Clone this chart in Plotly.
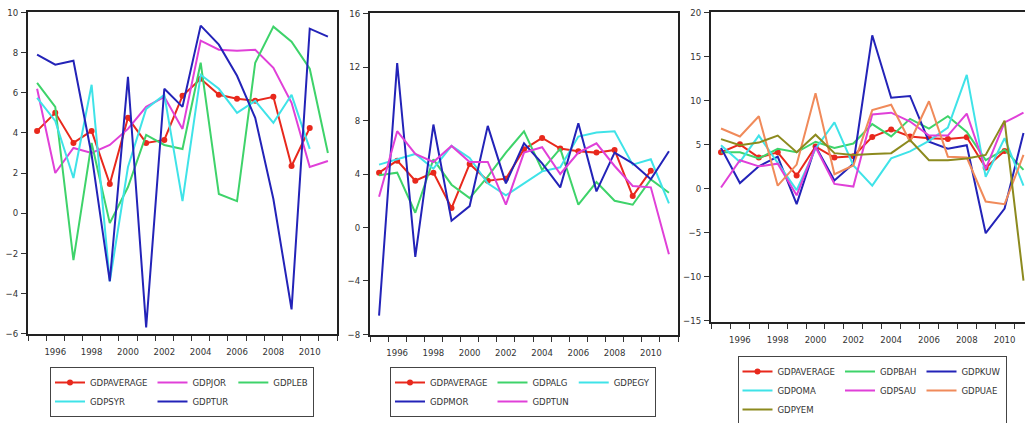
import plotly.graph_objects as go

years = list(range(1995, 2012))
tick_years = [1996, 1998, 2000, 2002, 2004, 2006, 2008, 2010]
tick_text = [str(y) for y in tick_years]

gdp_average = [4.1, 5.0, 3.5, 4.1, 1.45, 4.75, 3.5, 3.65, 5.85, 6.7, 5.9, 5.7, 5.6, 5.8, 2.35, 4.25, None]

# Panel 1
gdp_jor = [6.2, 2.0, 3.25, 3.0, 3.4, 4.2, 5.3, 5.8, 4.2, 8.6, 8.15, 8.1, 8.15, 7.25, 5.5, 2.3, 2.6]
gdp_leb = [6.5, 5.3, -2.35, 3.5, -0.5, 1.3, 3.9, 3.4, 3.2, 7.5, 0.95, 0.6, 7.5, 9.3, 8.55, 7.2, 3.0]
gdp_syr = [5.75, 4.6, 1.75, 6.4, -3.4, 2.3, 5.2, 5.9, 0.6, 6.9, 6.2, 5.0, 5.6, 4.5, 5.9, 3.2, None]
gdp_tur = [7.9, 7.4, 7.6, 2.9, -3.4, 6.8, -5.7, 6.2, 5.3, 9.35, 8.4, 6.85, 4.75, 0.7, -4.8, 9.2, 8.8]

# Panel 2
gdp_alg = [3.9, 4.1, 1.1, 5.1, 3.2, 2.2, 3.8, 5.6, 7.2, 4.3, 5.9, 1.7, 3.4, 2.0, 1.7, 3.6, 2.6]
gdp_egy = [4.7, 5.1, 5.5, 4.4, 6.1, 5.2, 3.3, 2.4, 3.3, 4.2, 4.5, 6.8, 7.1, 7.2, 4.7, 5.1, 1.8]
gdp_mor = [-6.6, 12.3, -2.2, 7.7, 0.5, 1.6, 7.6, 3.3, 6.3, 4.8, 3.0, 7.8, 2.7, 5.6, 4.8, 3.6, 5.7]
gdp_tun = [2.3, 7.2, 5.5, 4.9, 6.1, 4.9, 4.9, 1.7, 5.6, 6.0, 4.0, 5.6, 6.3, 4.6, 3.1, 3.0, -2.0]

# Panel 3
gdp_bah = [4.1, 4.1, 3.4, 4.5, 4.1, 5.3, 4.6, 5.1, 7.3, 5.9, 7.9, 6.8, 8.2, 6.4, 3.2, 4.4, 2.1]
gdp_kuw = [4.6, 0.6, 2.5, 3.6, -1.8, 4.8, 0.9, 2.8, 17.4, 10.3, 10.5, 5.3, 4.5, 4.9, -5.1, -2.3, 6.3]
gdp_oma = [4.9, 3.0, 6.0, 2.9, -0.2, 4.5, 7.5, 2.6, 0.3, 3.4, 4.2, 5.4, 6.9, 12.9, 1.3, 5.7, 0.3]
gdp_sau = [0.1, 3.2, 2.5, 2.8, -0.8, 4.7, 0.5, 0.2, 8.4, 8.6, 7.6, 6.0, 6.0, 8.5, 2.2, 7.5, 8.6]
gdp_uae = [6.8, 5.9, 8.2, 0.3, 2.7, 10.8, 1.6, 2.6, 8.9, 9.5, 5.3, 9.9, 3.6, 3.5, -1.5, -1.8, 3.8]
gdp_yem = [5.6, 4.9, 5.2, 6.0, 4.1, 6.1, 4.0, 3.8, 3.9, 4.0, 5.5, 3.2, 3.2, 3.4, 3.8, 7.7, -10.5]

RED = "#e8281c"
MAG = "#e040d8"
GRN = "#3ed36a"
CYN = "#3fe3e8"
NAV = "#2323b8"
ORG = "#f08a5a"
OLV = "#8c8a1e"

FONT = "DejaVu Sans Condensed, Liberation Sans Narrow, Liberation Sans, sans-serif"

fig = go.Figure()


def line(name, vals, color, xa, ya, legend, group, avg=False):
    fig.add_trace(go.Scatter(
        x=years, y=vals, name=name, xaxis=xa, yaxis=ya,
        mode="lines+markers" if avg else "lines",
        line=dict(color=color, width=2),
        marker=dict(color=color, size=6, symbol="circle") if avg else None,
        legend=legend, legendgroup=group, connectgaps=False,
    ))


# panel 1
line("GDPAVERAGE", gdp_average, RED, "x", "y", "legend", "a1", True)
line("GDPJOR", gdp_jor, MAG, "x", "y", "legend", "a2")
line("GDPLEB", gdp_leb, GRN, "x", "y", "legend", "a3")
line("GDPSYR", gdp_syr, CYN, "x", "y", "legend", "a1")
line("GDPTUR", gdp_tur, NAV, "x", "y", "legend", "a2")
# panel 2
line("GDPAVERAGE", gdp_average, RED, "x2", "y2", "legend2", "b1", True)
line("GDPALG", gdp_alg, GRN, "x2", "y2", "legend2", "b2")
line("GDPEGY", gdp_egy, CYN, "x2", "y2", "legend2", "b3")
line("GDPMOR", gdp_mor, NAV, "x2", "y2", "legend2", "b1")
line("GDPTUN", gdp_tun, MAG, "x2", "y2", "legend2", "b2")
# panel 3
line("GDPAVERAGE", gdp_average, RED, "x3", "y3", "legend3", "c1", True)
line("GDPBAH", gdp_bah, GRN, "x3", "y3", "legend3", "c2")
line("GDPKUW", gdp_kuw, NAV, "x3", "y3", "legend3", "c3")
line("GDPOMA", gdp_oma, CYN, "x3", "y3", "legend3", "c1")
line("GDPSAU", gdp_sau, MAG, "x3", "y3", "legend3", "c2")
line("GDPUAE", gdp_uae, ORG, "x3", "y3", "legend3", "c3")
line("GDPYEM", gdp_yem, OLV, "x3", "y3", "legend3", "c1")

W, H = 1026, 423
boundaries = [1994.5 + i for i in range(18)]


def xax(x0, x1, rng, mirror=True):
    return dict(
        domain=[x0 / W, x1 / W], range=rng,
        tickmode="array", tickvals=tick_years, ticktext=tick_text,
        ticks="outside", ticklen=0, ticklabelstandoff=8,
        minor=dict(tickmode="array", tickvals=boundaries, ticks="outside",
                   ticklen=5, tickcolor="#333", tickwidth=1, showgrid=False),
        showline=True, linecolor="#222", linewidth=2, mirror=mirror,
        showgrid=False, zeroline=False,
        tickfont=dict(family=FONT, size=9.5, color="#333"),
    )


def yax(top, bottom, rng, dtick, anchor, mirror=True):
    return dict(
        domain=[1 - bottom / H, 1 - top / H], range=rng, anchor=anchor,
        tickmode="linear", tick0=0, dtick=dtick,
        ticks="outside", ticklen=5, tickcolor="#333", tickwidth=1,
        ticklabelstandoff=1,
        showline=True, linecolor="#222", linewidth=2, mirror=mirror,
        showgrid=False, zeroline=False,
        tickfont=dict(family=FONT, size=9.5, color="#333"),
    )


def leg(xc, ytop):
    return dict(
        x=xc / W, y=1 - ytop / H, xref="container", yref="container",
        xanchor="center", yanchor="top",
        orientation="h", traceorder="grouped", tracegroupgap=0,
        bordercolor="#444", borderwidth=1, bgcolor="white",
        font=dict(family=FONT, size=9.5, color="#333"), itemwidth=30,
    )


fig.update_layout(
    width=W, height=H, margin=dict(l=0, r=0, t=0, b=0, autoexpand=False),
    paper_bgcolor="white", plot_bgcolor="white", showlegend=True,
    xaxis=dict(xax(28, 337, [1994.5, 2011.5]), anchor="y"),
    yaxis=yax(12, 334, [-6.03, 10.03], 2, "x"),
    xaxis2=dict(xax(370, 678, [1994.5, 2011.5]), anchor="y2"),
    yaxis2=yax(13, 335, [-8.05, 16.05], 4, "x2"),
    xaxis3=dict(xax(711, 1025, [1994.47, 2011.08]), anchor="y3"),
    yaxis3=yax(12, 322, [-15.2, 20.05], 5, "x3", mirror=False),
    legend=leg(182, 367),
    legend2=leg(523, 367),
    legend3=leg(872, 356),
)

fig.write_html("out.html")
